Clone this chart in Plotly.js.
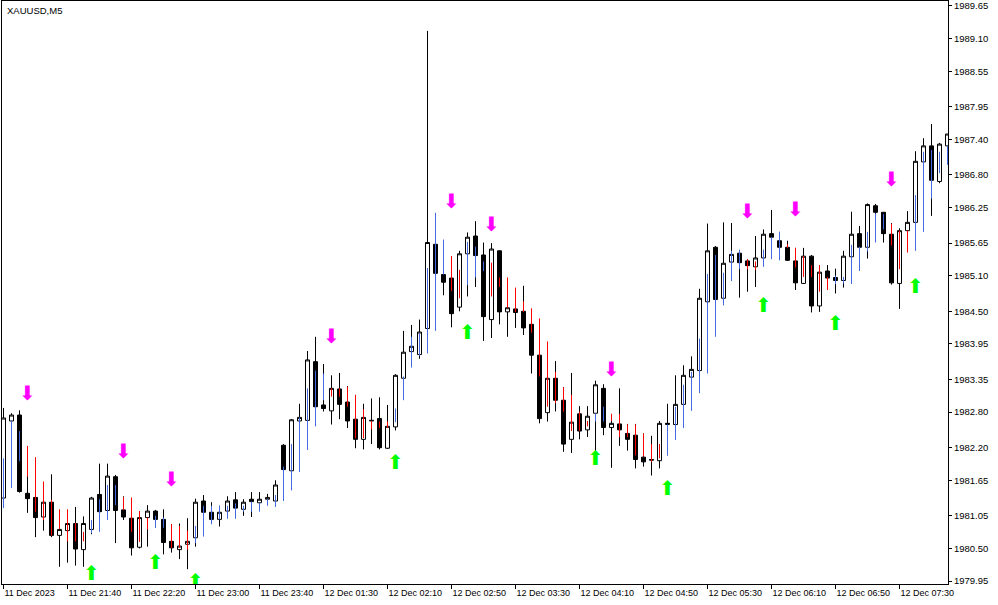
<!DOCTYPE html>
<html>
<head>
<meta charset="utf-8">
<script src="https://cdn.plot.ly/plotly-3.0.1.min.js"></script>
<style>
html,body{margin:0;padding:0;background:#fff;}
#chart{width:998px;height:605px;}
</style>
</head>
<body>
<div id="chart"></div>
<script>
// ---- data (XAUUSD, M5) ----
var openP = [1981.35,1982.65,1982.75,1981.43,1981.36,1981.03,1981.28,1980.72,1980.80,1980.92,
1980.48,1980.82,1981.41,1981.14,1981.71,1981.15,1981.01,1980.52,1981.02,1981.13,
1980.99,1980.62,1980.48,1980.57,1980.68,1981.30,1981.11,1980.99,1981.13,1981.32,
1981.16,1981.33,1981.27,1981.33,1981.30,1982.24,1981.81,1982.65,1982.66,1983.65,
1982.92,1982.82,1983.19,1982.97,1982.68,1982.34,1982.65,1982.69,1982.19,1982.55,
1983.37,1983.82,1983.77,1984.21,1985.63,1985.12,1985.06,1984.57,1985.47,1985.77,
1985.45,1984.36,1985.52,1984.49,1984.54,1984.50,1984.28,1983.76,1982.79,1983.37,
1983.00,1982.34,1982.77,1982.50,1982.78,1983.20,1982.54,1982.60,1982.44,1982.41,
1982.04,1982.00,1981.98,1982.59,1982.59,1982.93,1983.39,1983.50,1984.66,1985.58,
1984.72,1985.33,1985.48,1985.35,1985.25,1985.40,1985.81,1985.69,1985.58,1985.35,
1984.97,1985.43,1984.59,1985.18,1985.07,1985.02,1985.42,1985.81,1985.58,1986.28,
1986.17,1985.80,1984.97,1985.86,1986.00,1987.02,1987.29,1986.69,1987.29];
var highP = [1982.87,1982.78,1982.83,1981.82,1981.95,1981.60,1981.75,1981.05,1981.11,1981.20,
1981.04,1981.37,1981.93,1981.93,1981.74,1981.38,1981.32,1981.13,1981.23,1981.15,
1981.16,1980.91,1980.92,1981.01,1981.34,1981.40,1981.28,1981.22,1981.38,1981.45,
1981.33,1981.45,1981.45,1981.42,1981.65,1982.26,1982.68,1982.94,1983.83,1984.07,
1983.61,1983.42,1983.46,1983.24,1983.09,1982.94,1983.03,1983.05,1982.92,1983.44,
1984.17,1984.27,1984.36,1989.23,1985.70,1985.28,1985.43,1985.52,1985.83,1986.02,
1985.66,1985.65,1985.53,1985.06,1984.89,1984.93,1984.35,1983.93,1983.41,1983.66,
1983.22,1983.46,1982.90,1982.90,1983.33,1983.27,1982.77,1983.20,1982.60,1982.60,
1982.44,1982.40,1982.65,1982.94,1983.42,1983.59,1983.74,1984.88,1985.98,1985.60,
1986.00,1985.99,1985.53,1985.38,1985.77,1985.88,1986.21,1985.84,1985.69,1985.57,
1985.57,1985.45,1985.28,1985.28,1985.22,1985.52,1986.18,1985.94,1986.32,1986.31,
1986.17,1985.99,1985.90,1986.19,1987.20,1987.42,1987.66,1987.34,1987.49];
var lowP = [1981.23,1982.60,1981.44,1981.10,1980.69,1980.80,1980.69,1980.19,1980.26,1980.21,
1980.19,1980.74,1981.06,1981.11,1980.59,1980.98,1980.38,1980.50,1980.53,1980.85,
1980.40,1980.43,1980.32,1980.15,1980.53,1981.05,1980.91,1980.87,1981.10,1981.13,
1981.05,1981.03,1981.21,1981.28,1981.26,1981.78,1981.78,1982.60,1982.62,1982.80,
1982.81,1982.59,1982.68,1982.53,1982.19,1982.17,1982.26,1982.17,1982.18,1982.49,
1983.34,1983.76,1983.70,1984.15,1985.05,1984.77,1984.23,1984.50,1984.75,1984.91,
1984.00,1984.05,1984.28,1984.07,1984.22,1984.10,1983.45,1982.61,1982.64,1982.81,
1982.13,1982.11,1982.34,1982.38,1982.09,1982.41,1981.86,1982.23,1982.15,1981.85,
1981.88,1981.73,1981.85,1982.07,1982.55,1982.90,1983.35,1983.45,1984.60,1984.65,
1984.68,1985.30,1984.73,1984.83,1984.91,1985.35,1985.70,1985.55,1985.35,1984.86,
1984.96,1984.48,1984.49,1984.86,1984.80,1984.90,1985.38,1985.55,1985.39,1986.12,
1985.66,1984.95,1984.54,1985.83,1985.95,1986.98,1986.11,1986.66,1987.25];
var closeP = [1982.70,1982.75,1981.46,1981.34,1981.02,1981.28,1980.72,1980.82,1980.92,1980.49,
1980.92,1981.35,1981.12,1981.72,1981.14,1981.03,1980.51,1981.02,1981.13,1980.99,
1980.60,1980.51,1980.54,1980.62,1981.28,1981.11,1980.99,1981.11,1981.30,1981.18,
1981.28,1981.29,1981.33,1981.36,1981.57,1981.83,1982.67,1982.71,1983.68,1982.89,
1982.86,1983.20,1982.93,1982.65,1982.34,1982.71,1982.66,1982.20,1982.56,1983.42,
1983.81,1983.91,1984.15,1985.66,1985.14,1984.99,1984.46,1985.47,1985.75,1985.44,
1984.41,1985.55,1984.49,1984.56,1984.48,1984.22,1983.76,1982.69,1983.37,1983.00,
1982.26,1982.63,1982.48,1982.73,1983.26,1982.54,1982.61,1982.50,1982.34,1982.00,
1981.96,1981.99,1982.61,1982.61,1982.93,1983.42,1983.52,1984.72,1985.52,1984.70,
1985.31,1985.46,1985.32,1985.27,1985.40,1985.80,1985.75,1985.58,1985.36,1984.98,
1985.43,1984.59,1985.16,1985.06,1985.02,1985.43,1985.80,1985.58,1986.30,1986.17,
1985.81,1984.98,1985.86,1986.00,1987.03,1987.29,1986.71,1987.32,1987.49];

// Heiken Ashi indicator open / close
var haOpen = [1981.18,1981.52,1981.97,1982.23,1982.04,1981.63,1981.32,1981.16,1981.16,1980.93,
1980.78,1980.76,1980.78,1980.98,1981.23,1981.37,1981.36,1981.13,1981.02,1980.85,
1980.85,1980.91,1980.88,1980.80,1980.59,1980.70,1980.91,1980.99,1981.00,1981.00,
1981.12,1981.12,1981.12,1981.22,1981.20,1981.30,1981.48,1981.79,1982.16,1982.56,
1983.00,1983.20,1983.20,1983.23,1983.09,1982.85,1982.65,1982.64,1982.64,1982.63,
1983.00,1983.55,1983.75,1983.79,1984.17,1985.12,1985.43,1985.20,1984.94,1985.07,
1985.18,1985.32,1985.07,1985.07,1984.90,1984.67,1984.55,1984.38,1983.99,1983.48,
1983.22,1983.09,1982.81,1982.65,1982.64,1982.64,1982.77,1982.77,1982.59,1982.59,
1982.44,1982.26,1982.26,1982.07,1982.33,1982.53,1982.82,1983.12,1983.45,1984.07,
1984.60,1985.01,1985.21,1985.38,1985.34,1985.25,1985.38,1985.36,1985.63,1985.57,
1985.43,1985.28,1985.28,1985.08,1984.96,1984.97,1984.96,1985.18,1985.51,1985.66,
1985.88,1985.98,1985.86,1985.86,1985.52,1985.84,1986.40,1986.83,1986.97];
var haClose = [1982.02,1982.66,1982.48,1981.71,1981.12,1980.98,1980.72,1980.83,1980.62,1980.62,
1980.62,1980.98,1981.33,1981.57,1981.57,1981.15,1980.78,1980.61,1980.82,1981.05,
1981.02,1980.51,1980.51,1980.48,1980.88,1981.22,1981.22,1981.22,1981.22,1981.26,
1981.22,1981.29,1981.27,1981.33,1981.40,1981.88,1982.26,1982.71,1983.20,1983.50,
1983.45,1983.06,1983.06,1982.89,1982.36,1982.36,1982.51,1982.53,1982.53,1982.86,
1983.40,1984.07,1984.12,1985.23,1986.16,1985.71,1984.84,1984.72,1985.67,1985.59,
1985.34,1984.75,1984.91,1984.56,1984.49,1984.49,1984.14,1983.40,1982.89,1982.95,
1982.81,1982.48,1982.48,1982.56,1982.78,1982.89,1982.65,1982.38,1982.38,1982.07,
1982.05,1981.96,1982.02,1982.59,1982.89,1983.26,1983.48,1984.04,1985.13,1985.45,
1985.15,1985.52,1985.54,1985.21,1985.20,1985.54,1985.75,1985.84,1985.57,1985.24,
1985.08,1985.08,1984.83,1984.86,1985.10,1985.08,1985.62,1985.59,1985.84,1986.15,
1986.14,1985.61,1985.21,1985.49,1986.46,1987.19,1987.22,1987.19,1987.29];

// signal arrows (bar index, price level)
var sellIdx = [3,15,21,41,56,61,76,93,99,111];
var sellPrice = [1983.08,1982.11,1981.63,1984.05,1986.33,1985.94,1983.50,1986.16,1986.19,1986.70];
var buyIdx = [11,19,24,49,58,74,83,95,104,114];
var buyPrice = [1980.06,1980.23,1979.92,1981.92,1984.11,1981.99,1981.48,1984.58,1984.27,1984.89];

// axis labels
var timeTickIdx = [0,8,16,24,32,40,48,56,64,72,80,88,96,104,112];
var timeTickText = ["11 Dec 2023","11 Dec 21:40","11 Dec 22:20","11 Dec 23:00","11 Dec 23:40",
"12 Dec 01:30","12 Dec 02:10","12 Dec 02:50","12 Dec 03:30","12 Dec 04:10","12 Dec 04:50",
"12 Dec 05:30","12 Dec 06:10","12 Dec 06:50","12 Dec 07:30"];
var priceTicks = [1989.65,1989.10,1988.55,1987.95,1987.40,1986.80,1986.25,1985.65,1985.10,
1984.50,1983.95,1983.35,1982.80,1982.20,1981.65,1981.05,1980.50,1979.95];

// ---- build traces ----
var idx = openP.map(function(_, i){ return i; });

var candles = {
  type: 'candlestick', x: idx, open: openP, high: highP, low: lowP, close: closeP,
  increasing: {line: {color: '#000000', width: 1}, fillcolor: '#ffffff'},
  decreasing: {line: {color: '#000000', width: 1}, fillcolor: '#000000'},
  whiskerwidth: 0, hoverinfo: 'skip', showlegend: false
};

var bx = [], by = [], rx = [], ry = [];
for (var i = 0; i < haOpen.length; i++) {
  if (haClose[i] >= haOpen[i]) { bx.push(i, i, null); by.push(haOpen[i], haClose[i], null); }
  else { rx.push(i, i, null); ry.push(haOpen[i], haClose[i], null); }
}
var haBull = {type:'scatter', mode:'lines', x: bx, y: by, line:{color:'#4169e1', width:1}, hoverinfo:'skip', showlegend:false, connectgaps:false};
var haBear = {type:'scatter', mode:'lines', x: rx, y: ry, line:{color:'#ff0000', width:1}, hoverinfo:'skip', showlegend:false, connectgaps:false};

var sells = {type:'scatter', mode:'text', x: sellIdx, y: sellPrice,
  text: sellIdx.map(function(){return '\u2B07';}),
  textfont:{family:'DejaVu Sans', size:20, color:'#ff00ff'}, textposition:'middle center',
  hoverinfo:'skip', showlegend:false, cliponaxis:true};
var buys = {type:'scatter', mode:'text', x: buyIdx, y: buyPrice,
  text: buyIdx.map(function(){return '\u2B06';}),
  textfont:{family:'DejaVu Sans', size:20, color:'#00ff00'}, textposition:'middle center',
  hoverinfo:'skip', showlegend:false, cliponaxis:true};

var layout = {
  width: 998, height: 605,
  margin: {l: 2, r: 50, t: 1, b: 21, pad: 0},
  paper_bgcolor: '#ffffff', plot_bgcolor: '#ffffff',
  showlegend: false,
  boxgap: 0.5, boxgroupgap: 0,
  font: {family: 'Liberation Sans, Arial, sans-serif', size: 9.5, color: '#000000'},
  xaxis: {
    range: [-0.1875, 118.0625], showgrid: false, zeroline: false,
    rangeslider: {visible: false},
    showline: true, linecolor: '#000000', linewidth: 1, mirror: true,
    ticks: 'outside', ticklen: 4, tickcolor: '#000000', tickwidth: 1,
    tickmode: 'array', tickvals: timeTickIdx, ticktext: timeTickText,
    tickangle: 0, automargin: false,
    ticklabelposition: 'outside right',
    tickfont: {family: 'Liberation Sans, Arial, sans-serif', size: 9, color: '#000000'},
    fixedrange: true
  },
  yaxis: {
    side: 'right', range: [1979.900, 1989.734], showgrid: false, zeroline: false,
    showline: true, linecolor: '#000000', linewidth: 1, mirror: true,
    ticks: 'outside', ticklen: 3, tickcolor: '#000000', tickwidth: 1,
    tickmode: 'array', tickvals: priceTicks, ticktext: priceTicks.map(function(v){return v.toFixed(2);}),
    tickfont: {family: 'Liberation Sans, Arial, sans-serif', size: 9.5, color: '#000000'},
    automargin: false, fixedrange: true
  },
  annotations: [{
    text: 'XAUUSD,M5', xref: 'paper', yref: 'paper', x: 0, y: 1,
    xanchor: 'left', yanchor: 'top', xshift: 3, yshift: -2, showarrow: false,
    font: {family: 'Liberation Sans, Arial, sans-serif', size: 9.5, color: '#000000'}
  }]
};

Plotly.newPlot('chart', [candles, haBull, haBear, sells, buys], layout, {displayModeBar: false, staticPlot: true});
</script>
</body>
</html>
